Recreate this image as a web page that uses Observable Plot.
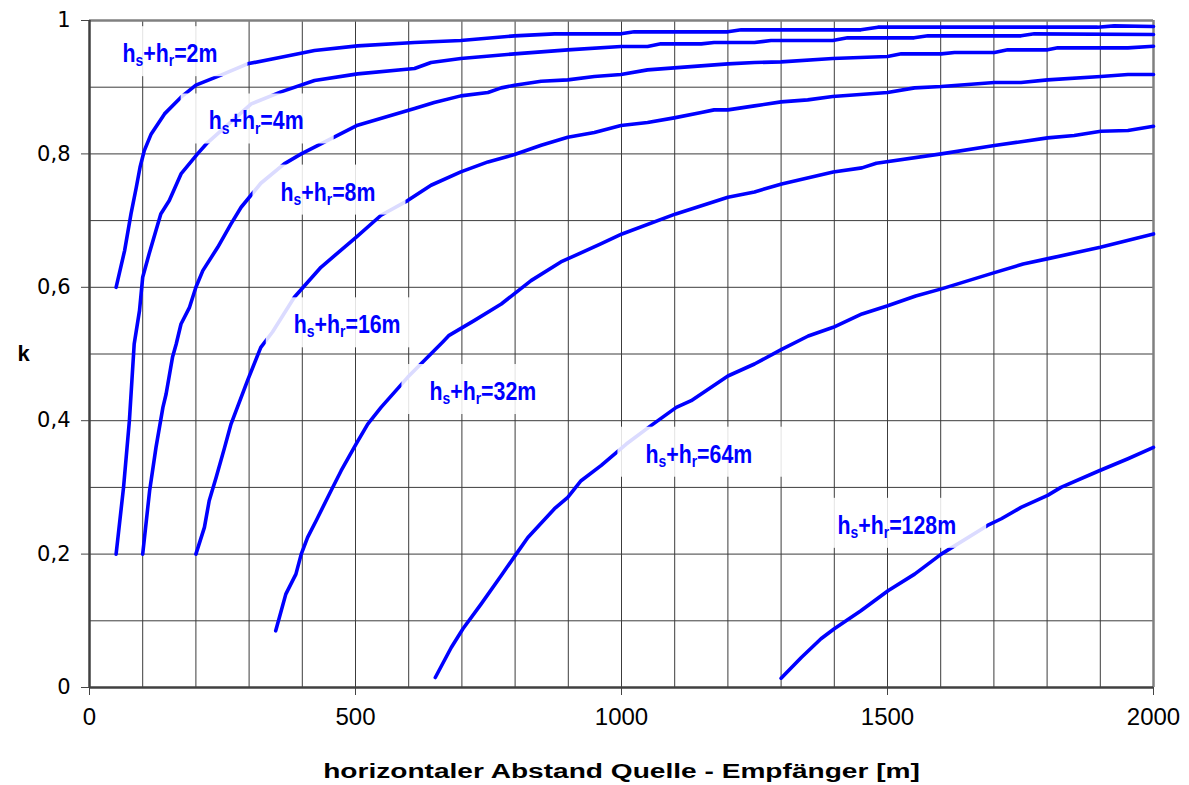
<!DOCTYPE html>
<html>
<head>
<meta charset="utf-8">
<script src="https://cdn.jsdelivr.net/npm/d3@7"></script>
<script src="https://cdn.jsdelivr.net/npm/@observablehq/plot@0.6"></script>
<style>
  html, body { margin: 0; padding: 0; background: #fff; }
  #chart { width: 1189px; height: 785px; }
</style>
</head>
<body>
<div id="chart"></div>
<script>
// ---- data ----
const seriesNames = ["2m", "4m", "8m", "16m", "32m", "64m", "128m"];

const s2m = [[50,0.600],[66,0.655],[78,0.710],[88,0.750],[95,0.780],[103,0.805],[116,0.830],[141,0.860],[172,0.885],[200,0.903],[247,0.918],[297,0.935],[360,0.945],[423,0.955],[504,0.962],[611,0.967],[698,0.970],[799,0.977],[874,0.980],[999,0.980],[1024,0.983],[1200,0.983],[1225,0.986],[1450,0.986],[1482,0.990],[1895,0.990],[1926,0.992],[2000,0.991]];
const s4m = [[50,0.200],[64,0.300],[75,0.400],[84,0.515],[94,0.565],[100,0.615],[112,0.650],[134,0.710],[150,0.730],[172,0.770],[203,0.800],[222,0.817],[304,0.875],[360,0.893],[423,0.910],[504,0.920],[611,0.928],[642,0.937],[698,0.943],[799,0.950],[899,0.956],[999,0.961],[1049,0.961],[1074,0.965],[1150,0.965],[1174,0.967],[1250,0.967],[1281,0.970],[1397,0.970],[1425,0.974],[1550,0.974],[1576,0.977],[1751,0.977],[1776,0.980],[2000,0.979]];
const s8m = [[100,0.200],[113,0.295],[125,0.360],[138,0.420],[144,0.440],[156,0.495],[163,0.515],[172,0.545],[188,0.570],[200,0.600],[213,0.625],[241,0.660],[266,0.695],[285,0.720],[322,0.756],[366,0.785],[398,0.800],[435,0.815],[504,0.843],[611,0.868],[648,0.877],[698,0.887],[749,0.892],[774,0.899],[799,0.903],[849,0.909],[899,0.911],[949,0.916],[999,0.919],[1049,0.926],[1099,0.929],[1200,0.935],[1250,0.937],[1300,0.938],[1397,0.943],[1500,0.946],[1526,0.950],[1601,0.950],[1626,0.952],[1701,0.952],[1726,0.956],[1801,0.956],[1820,0.959],[1952,0.959],[2000,0.9615]];
const s16m = [[200,0.200],[216,0.240],[225,0.280],[238,0.315],[254,0.360],[266,0.395],[297,0.460],[322,0.510],[344,0.533],[385,0.585],[435,0.630],[501,0.675],[548,0.708],[598,0.730],[642,0.753],[698,0.773],[749,0.788],[799,0.799],[849,0.813],[899,0.825],[949,0.832],[999,0.8425],[1049,0.847],[1099,0.854],[1150,0.862],[1174,0.866],[1200,0.866],[1250,0.872],[1300,0.878],[1350,0.881],[1397,0.886],[1500,0.892],[1551,0.899],[1601,0.901],[1701,0.907],[1751,0.907],[1801,0.911],[1901,0.916],[1952,0.919],[2000,0.919]];
const s32m = [[350,0.085],[369,0.140],[388,0.170],[398,0.200],[410,0.225],[426,0.250],[454,0.295],[473,0.325],[501,0.365],[523,0.395],[548,0.420],[598,0.465],[664,0.518],[676,0.528],[723,0.550],[774,0.575],[830,0.610],[886,0.638],[961,0.665],[1001,0.680],[1102,0.710],[1200,0.735],[1250,0.743],[1301,0.755],[1398,0.773],[1452,0.779],[1479,0.786],[1601,0.800],[1701,0.8125],[1801,0.824],[1851,0.8275],[1901,0.834],[1952,0.835],[2000,0.8415]];
const s64m = [[650,0.015],[680,0.060],[702,0.088],[736,0.125],[774,0.168],[802,0.200],[824,0.225],[874,0.268],[899,0.285],[924,0.310],[962,0.333],[1009,0.365],[1056,0.393],[1103,0.420],[1131,0.430],[1200,0.467],[1250,0.485],[1301,0.507],[1351,0.527],[1398,0.540],[1452,0.560],[1499,0.572],[1553,0.587],[1603,0.598],[1701,0.622],[1755,0.635],[1802,0.643],[1900,0.660],[2000,0.680]];
const s128m = [[1300,0.014],[1338,0.045],[1375,0.073],[1400,0.088],[1450,0.115],[1501,0.145],[1551,0.170],[1601,0.200],[1688,0.243],[1714,0.253],[1751,0.270],[1801,0.288],[1826,0.300],[1898,0.325],[1952,0.343],[2000,0.360]];
const seriesData = [s2m, s4m, s8m, s16m, s32m, s64m, s128m];

// curve labels: text "hs+hr=..." anchored at (distance, k) = left end of baseline
const labelText = ["hs+hr=2m", "hs+hr=4m", "hs+hr=8m", "hs+hr=16m", "hs+hr=32m", "hs+hr=64m", "hs+hr=128m"];
const labelX = [62, 224, 359, 384, 639, 1045, 1406];
const labelK = [0.9375, 0.8366, 0.730, 0.531, 0.431, 0.337, 0.2304];

const xTicks = [0, 500, 1000, 1500, 2000];
const yTicks = [0, 0.2, 0.4, 0.6, 0.8, 1];
const xGrid = d3.range(0, 2001, 100);
const yGrid = d3.range(0, 11).map(i => i / 10);
const xTitle = "horizontaler Abstand Quelle - Empfänger [m]";
const yTitle = "k";

// ---- build tables ----
const rows = [];
seriesData.forEach((arr, i) => arr.forEach(([x, k]) => rows.push({series: seriesNames[i], x, k})));
const labels = labelText.map((t, i) => ({text: t, x: labelX[i], k: labelK[i]}));

const blue = "#0000ff";
const sans = "'Liberation Sans', Arial, Helvetica, sans-serif";

const chart = Plot.plot({
  width: 1189,
  height: 785,
  marginLeft: 89,
  marginRight: 36,
  marginTop: 20,
  marginBottom: 98,
  style: {fontFamily: sans, background: "#fff", color: "#000"},
  x: {domain: [0, 2000]},
  y: {domain: [0, 1]},
  marks: [
    Plot.gridX(xGrid, {stroke: "#3c3c3c", strokeOpacity: 1, strokeWidth: 1}),
    Plot.gridY(yGrid, {stroke: "#3c3c3c", strokeOpacity: 1, strokeWidth: 1}),
    Plot.ruleX([2000], {stroke: "#808080", strokeWidth: 2.5}),
    Plot.ruleY([1], {stroke: "#808080", strokeWidth: 2.5}),
    Plot.axisX(xTicks, {tickSize: 8, tickPadding: 12, stroke: "#444", fontSize: 24, fill: "#000", label: null, fontFamily: sans, tickFormat: d => String(d)}),
    Plot.axisY(yTicks, {tickSize: 8, tickPadding: 11, stroke: "#444", fontSize: 21, fill: "#000", label: null, fontFamily: "'DejaVu Sans', sans-serif", tickFormat: d => String(d).replace(".", ",")}),
    Plot.ruleX([0], {stroke: "#404040", strokeWidth: 2.5}),
    Plot.ruleY([0], {stroke: "#404040", strokeWidth: 2.5}),
    Plot.line(rows, {x: "x", y: "k", z: "series", stroke: blue, strokeWidth: 3.6, strokeLinejoin: "round", strokeLinecap: "round"}),
    Plot.text(labels, {x: "x", y: "k", text: "text", textAnchor: "start", lineAnchor: "bottom", fill: blue, fontWeight: "bold", fontSize: 26, fontFamily: sans, className: "curve-label"}),
    Plot.text([xTitle], {frameAnchor: "bottom", dy: 90, fontWeight: "bold", fontSize: 21, fill: "#000", fontFamily: sans, lineAnchor: "bottom", className: "xtitle"}),
    Plot.text([yTitle], {frameAnchor: "left", dx: -72, fontWeight: "bold", fontSize: 22, fill: "#000", fontFamily: sans, textAnchor: "start", className: "ytitle"})
  ]
});

document.getElementById("chart").appendChild(chart);

const svgNS = "http://www.w3.org/2000/svg";

// horizontal scaling about the text's own anchor point
function squeeze(t, sx) {
  let tx = 0, ty = 0;
  const tr = t.getAttribute("transform") || "";
  const m = tr.match(/translate\(\s*([-\d.e]+)[ ,]+([-\d.e]+)\s*\)/);
  if (m) { tx = +m[1]; ty = +m[2]; }
  if (t.hasAttribute("x")) { tx += +t.getAttribute("x") || 0; t.removeAttribute("x"); }
  if (t.hasAttribute("y") && !/em$/.test(t.getAttribute("y"))) { ty += +t.getAttribute("y") || 0; t.removeAttribute("y"); }
  t.setAttribute("transform", `translate(${tx},${ty}) scale(${sx},1)`);
  return [tx, ty];
}

// axis title: slightly wider glyphs, as in the reference
d3.select(chart).selectAll("g.xtitle text").each(function() {
  const w = this.getBBox().width;
  squeeze(this, 597 / w);
});

// curve labels: subscripts, condensed glyphs, and white semi-opaque boxes behind them
d3.select(chart).selectAll("g.curve-label").each(function() {
  const g = this;
  const texts = [];
  d3.select(g).selectAll("text").each(function() { texts.push(this); });
  for (const t of texts) {
    const s = t.textContent; // e.g. "hs+hr=2m"
    const rest = s.slice(s.indexOf("="));
    while (t.firstChild) t.removeChild(t.firstChild);
    const parts = [["h", 0, false], ["s", 4, true], ["+h", -4, false], ["r", 4, true], [rest, -4, false]];
    for (const [str, dy, sub] of parts) {
      const ts = document.createElementNS(svgNS, "tspan");
      ts.textContent = str;
      if (dy) ts.setAttribute("dy", dy);
      if (sub) ts.setAttribute("font-size", "17");
      t.appendChild(ts);
    }
    const sx = 0.82;
    const bb = t.getBBox(); // local, unscaled
    const [tx, ty] = squeeze(t, sx);
    const r = document.createElementNS(svgNS, "rect");
    r.setAttribute("x", tx + bb.x * sx - 28);
    r.setAttribute("y", ty - 36);
    r.setAttribute("width", bb.width * sx + 58);
    r.setAttribute("height", 50);
    r.setAttribute("fill", "#fff");
    r.setAttribute("fill-opacity", "0.86");
    g.insertBefore(r, g.firstChild);
  }
});
</script>
</body>
</html>
